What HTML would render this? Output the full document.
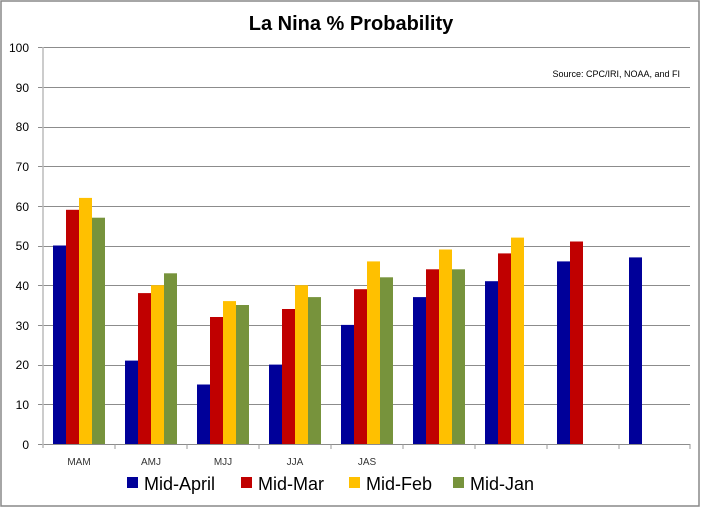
<!DOCTYPE html><html><head><style>body{margin:0;background:#fff}svg{display:block}</style></head><body>
<svg width="701" height="508" xmlns="http://www.w3.org/2000/svg" font-family="Liberation Sans, sans-serif">
<rect x="1" y="1" width="698" height="505" fill="#fff" stroke="#888" stroke-width="1.5"/>
<text x="351" y="30" text-anchor="middle" font-size="20" font-weight="bold">La Nina % Probability</text>
<g stroke="#8c8c8c" stroke-width="1">
<line x1="38" x2="690" y1="47.5" y2="47.5"/><line x1="38" x2="690" y1="87.5" y2="87.5"/><line x1="38" x2="690" y1="127.5" y2="127.5"/><line x1="38" x2="690" y1="166.5" y2="166.5"/><line x1="38" x2="690" y1="206.5" y2="206.5"/><line x1="38" x2="690" y1="246.5" y2="246.5"/><line x1="38" x2="690" y1="285.5" y2="285.5"/><line x1="38" x2="690" y1="325.5" y2="325.5"/><line x1="38" x2="690" y1="365.5" y2="365.5"/><line x1="38" x2="690" y1="404.5" y2="404.5"/><line x1="38" x2="690" y1="444.5" y2="444.5"/>
</g>
<line x1="43" x2="43" y1="47" y2="448" stroke="#bbb" stroke-width="1.5"/>
<g stroke="#999"><line x1="115" x2="115" y1="444" y2="449"/><line x1="187" x2="187" y1="444" y2="449"/><line x1="259" x2="259" y1="444" y2="449"/><line x1="331" x2="331" y1="444" y2="449"/><line x1="403" x2="403" y1="444" y2="449"/><line x1="475" x2="475" y1="444" y2="449"/><line x1="547" x2="547" y1="444" y2="449"/><line x1="619" x2="619" y1="444" y2="449"/><line x1="690" x2="690" y1="444" y2="449"/></g>
<g font-size="12" text-anchor="end" fill="#000">
<text x="29" y="52">100</text><text x="29" y="92">90</text><text x="29" y="131">80</text><text x="29" y="171">70</text><text x="29" y="211">60</text><text x="29" y="250">50</text><text x="29" y="290">40</text><text x="29" y="330">30</text><text x="29" y="369">20</text><text x="29" y="409">10</text><text x="29" y="449">0</text>
</g>
<text x="680" y="77" text-anchor="end" font-size="9">Source: CPC/IRI, NOAA, and FI</text>
<g font-size="10" text-anchor="middle" fill="#333"><text x="79" y="465">MAM</text><text x="151" y="465">AMJ</text><text x="223" y="465">MJJ</text><text x="295" y="465">JJA</text><text x="367" y="465">JAS</text></g>
<g>
<rect x="53" y="245.5" width="13" height="198.5" fill="#000099"/>
<rect x="66" y="209.8" width="13" height="234.2" fill="#c00000"/>
<rect x="79" y="197.9" width="13" height="246.1" fill="#ffc000"/>
<rect x="92" y="217.7" width="13" height="226.3" fill="#77933c"/>
<rect x="125" y="360.6" width="13" height="83.4" fill="#000099"/>
<rect x="138" y="293.1" width="13" height="150.9" fill="#c00000"/>
<rect x="151" y="285.2" width="13" height="158.8" fill="#ffc000"/>
<rect x="164" y="273.3" width="13" height="170.7" fill="#77933c"/>
<rect x="197" y="384.5" width="13" height="59.5" fill="#000099"/>
<rect x="210" y="317" width="13" height="127" fill="#c00000"/>
<rect x="223" y="301.1" width="13" height="142.9" fill="#ffc000"/>
<rect x="236" y="305" width="13" height="139" fill="#77933c"/>
<rect x="269" y="364.6" width="13" height="79.4" fill="#000099"/>
<rect x="282" y="309" width="13" height="135" fill="#c00000"/>
<rect x="295" y="285.2" width="13" height="158.8" fill="#ffc000"/>
<rect x="308" y="297.1" width="13" height="146.9" fill="#77933c"/>
<rect x="341" y="324.9" width="13" height="119.1" fill="#000099"/>
<rect x="354" y="289.2" width="13" height="154.8" fill="#c00000"/>
<rect x="367" y="261.4" width="13" height="182.6" fill="#ffc000"/>
<rect x="380" y="277.3" width="13" height="166.7" fill="#77933c"/>
<rect x="413" y="297.1" width="13" height="146.9" fill="#000099"/>
<rect x="426" y="269.3" width="13" height="174.7" fill="#c00000"/>
<rect x="439" y="249.5" width="13" height="194.5" fill="#ffc000"/>
<rect x="452" y="269.3" width="13" height="174.7" fill="#77933c"/>
<rect x="485" y="281.2" width="13" height="162.8" fill="#000099"/>
<rect x="498" y="253.4" width="13" height="190.6" fill="#c00000"/>
<rect x="511" y="237.6" width="13" height="206.4" fill="#ffc000"/>
<rect x="557" y="261.4" width="13" height="182.6" fill="#000099"/>
<rect x="570" y="241.5" width="13" height="202.5" fill="#c00000"/>
<rect x="629" y="257.4" width="13" height="186.6" fill="#000099"/>
</g>
<g font-size="18">
<rect x="127" y="477" width="11" height="11" fill="#000099"/><text x="144" y="490">Mid-April</text>
<rect x="241" y="477" width="11" height="11" fill="#c00000"/><text x="258" y="490">Mid-Mar</text>
<rect x="349" y="477" width="11" height="11" fill="#ffc000"/><text x="366" y="490">Mid-Feb</text>
<rect x="453" y="477" width="11" height="11" fill="#77933c"/><text x="470" y="490">Mid-Jan</text>
</g>
</svg></body></html>
